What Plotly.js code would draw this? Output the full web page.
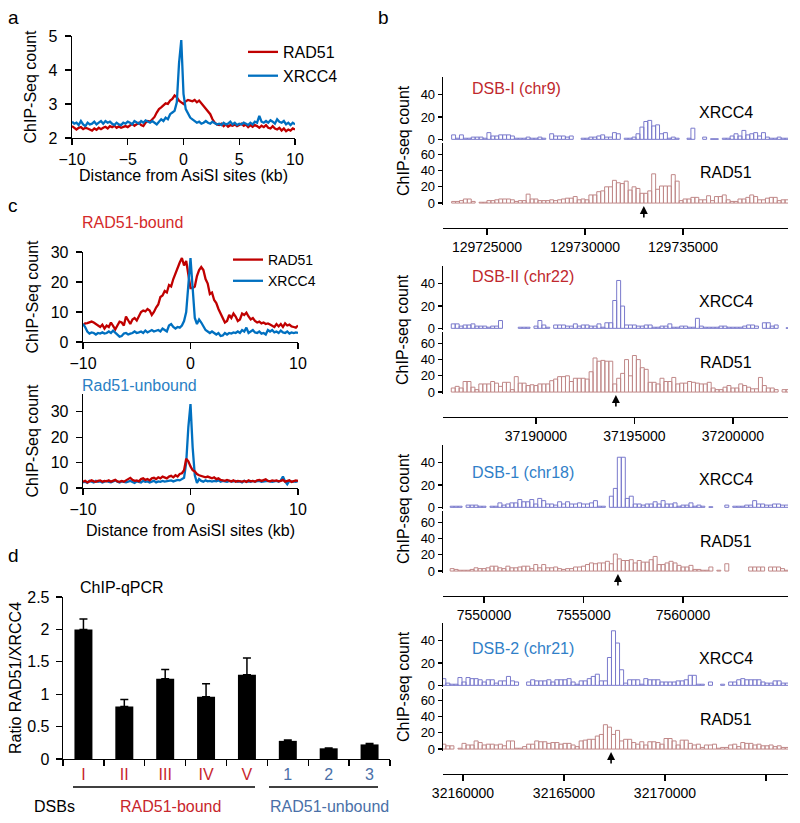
<!DOCTYPE html>
<html><head><meta charset="utf-8">
<script src="https://cdn.plot.ly/plotly-3.0.1.min.js"></script>
<style>html,body{margin:0;padding:0;background:#fff}#chart{width:800px;height:823px}</style>
</head><body><div id="chart"></div>
<script>
// ---------- DATA ----------
// Panel a: average profiles, x from -10 to 10 kb, step 0.2 kb
const profileStartKb = -10, profileStepKb = 0.2;
const aRad51 = [2.35,2.30,2.25,2.30,2.32,2.26,2.30,2.28,2.25,2.22,
2.28,2.24,2.30,2.26,2.30,2.33,2.28,2.35,2.32,2.36,
2.30,2.34,2.30,2.33,2.35,2.32,2.38,2.42,2.36,2.40,
2.45,2.38,2.35,2.45,2.50,2.48,2.55,2.62,2.75,2.85,
2.90,2.95,3.02,3.00,3.10,3.15,3.25,3.20,3.10,3.05,
3.00,3.08,3.12,3.10,3.08,3.12,3.05,3.10,3.02,2.95,
2.85,2.80,2.70,2.55,2.45,2.40,2.38,2.42,2.35,2.40,
2.33,2.38,2.36,2.40,2.35,2.38,2.42,2.36,2.40,2.32,
2.38,2.33,2.38,2.35,2.30,2.36,2.32,2.38,2.30,2.28,
2.35,2.28,2.25,2.30,2.22,2.28,2.20,2.25,2.22,2.28,
2.25];
const aXrcc4 = [2.48,2.42,2.45,2.38,2.50,2.40,2.35,2.45,2.40,2.42,
2.48,2.40,2.45,2.50,2.42,2.50,2.45,2.48,2.42,2.38,
2.45,2.40,2.38,2.45,2.42,2.48,2.45,2.40,2.50,2.45,
2.42,2.50,2.45,2.52,2.48,2.45,2.50,2.45,2.40,2.48,
2.55,2.50,2.60,2.55,2.70,2.75,2.80,3.05,4.20,4.88,
3.30,2.85,2.70,2.60,2.55,2.50,2.45,2.48,2.42,2.45,
2.50,2.45,2.42,2.48,2.45,2.40,2.42,2.38,2.45,2.40,
2.42,2.48,2.40,2.45,2.38,2.42,2.40,2.45,2.42,2.38,
2.45,2.40,2.48,2.45,2.65,2.48,2.45,2.50,2.45,2.52,
2.48,2.42,2.55,2.48,2.45,2.50,2.40,2.45,2.38,2.45,
2.40];
// Panel c: RAD51-bound
const cBoundRad51 = [5.5,6.2,6.3,6.5,6.8,6.5,6.0,5.5,5.0,5.8,
4.5,5.5,5.0,6.5,5.2,4.2,5.5,6.8,6.5,5.5,
8.5,7.0,6.0,7.5,8.0,7.2,8.8,10.0,10.5,10.2,
11.0,10.5,9.0,10.0,11.5,12.5,15.0,15.5,17.0,16.5,
19.0,18.5,21.0,23.0,25.0,26.5,28.0,25.5,27.0,22.0,
18.0,18.0,18.5,22.0,24.0,25.0,24.0,21.0,19.5,16.0,
16.5,14.0,13.0,11.0,9.5,7.5,6.5,7.0,9.0,8.0,
9.5,8.5,7.0,7.5,9.5,9.0,9.8,8.5,7.5,8.0,
7.0,6.5,6.8,6.2,6.5,6.0,6.2,5.8,5.5,5.0,
6.0,5.2,6.0,5.0,6.2,5.5,5.8,5.2,5.0,4.8,
5.5];
const cBoundXrcc4 = [6.0,5.0,3.5,2.8,3.2,3.0,2.5,3.0,2.8,3.2,
2.8,3.0,3.5,3.0,3.8,3.2,2.5,1.8,2.0,2.8,
3.0,2.5,2.8,3.0,3.5,3.0,3.2,3.5,3.0,3.8,
3.2,3.5,4.0,3.5,3.8,4.0,3.5,4.5,4.0,3.5,
5.5,6.0,5.0,4.5,5.0,4.8,5.5,7.0,10.0,20.0,
28.0,18.0,8.0,6.0,7.5,6.5,5.0,4.0,3.5,3.0,
3.5,3.0,2.5,3.0,2.0,2.2,3.0,2.5,3.0,2.8,
3.2,3.0,3.5,3.0,4.0,3.5,4.8,3.0,3.5,4.0,
3.2,3.0,3.5,2.8,3.0,2.5,4.0,3.5,4.0,3.2,
3.5,3.0,3.8,3.2,3.0,3.5,2.8,3.2,3.0,3.2,
3.0];
// Panel c: Rad51-unbound
const cUnboundRad51 = [2.5,2.8,2.2,2.5,3.0,2.6,2.4,2.8,3.0,2.5,
2.8,2.6,3.0,2.5,2.8,3.2,2.6,2.4,2.8,2.5,
3.0,3.5,4.0,3.2,2.8,3.0,2.6,3.5,3.8,3.2,
3.5,3.0,3.8,4.0,3.5,4.2,3.8,4.5,4.0,3.8,
4.5,4.8,4.2,5.0,4.5,5.5,5.8,7.0,11.5,10.5,
8.5,7.0,6.5,5.5,5.0,4.8,4.5,4.2,4.5,4.0,
3.8,4.2,3.5,3.8,3.2,3.0,2.8,3.2,3.0,2.6,
3.0,2.5,2.8,2.6,2.5,2.8,2.4,3.0,2.6,2.8,
2.5,3.0,3.2,2.8,3.0,3.4,2.8,2.6,3.0,2.8,
3.0,2.6,2.8,3.2,2.5,2.8,3.0,2.4,2.8,3.0,
2.8];
const cUnboundXrcc4 = [2.2,2.5,2.0,2.8,2.5,2.2,2.8,2.4,2.6,2.2,
2.5,2.8,2.4,2.2,2.6,3.0,2.5,2.2,2.6,2.4,
2.2,2.5,2.8,2.4,2.0,2.6,2.5,2.2,2.8,2.4,
2.6,2.2,2.5,2.8,2.2,2.6,2.4,2.8,2.5,2.6,
2.8,3.0,2.6,2.8,3.2,3.0,3.5,4.0,10.0,24.0,
33.0,16.0,5.0,2.0,3.5,2.8,2.5,3.0,2.6,2.8,
2.5,2.8,2.6,3.0,2.5,2.8,2.6,2.4,2.8,2.5,
2.6,2.8,2.4,2.6,2.2,2.8,2.5,2.6,2.4,2.8,
2.5,2.6,2.8,2.4,2.6,2.5,2.8,2.6,2.4,2.6,
2.8,2.5,3.0,4.5,2.6,1.5,2.8,2.5,2.6,2.4,
2.8];

// Panel d: ChIP-qPCR ratio
const dsbLabels = ['I','II','III','IV','V','1','2','3'];
const ratioValues = [2.00,0.81,1.24,0.96,1.30,0.28,0.165,0.225];
const ratioErrUp = [0.16,0.11,0.14,0.20,0.26,0.015,0.005,0.015];
const ratioErrDown = [0,0,0,0,0,0,0,0];
const dsbGroup = ['bound','bound','bound','bound','bound','unbound','unbound','unbound'];

// Panel b: genome tracks (200 bp bins)
const trackNames = ['DSB-I (chr9)','DSB-II (chr22)','DSB-1 (chr18)','DSB-2 (chr21)'];
const trackGroup = ['bound','bound','unbound','unbound'];
const binSizeBp = 200;
const binStarts = [129723200, 37185700, 7548300, 32158950];
const viewRanges = [[129722760,129740350],[37185280,37202800],[7547940,7565276],[32159010,32176088]];
const genomeTicks = [[129725000,129730000,129735000],[37190000,37195000,37200000],[7550000,7555000,7560000],[32160000,32165000,32170000,32175000]];
const genomeTickText = [['129725000','129730000','129735000'],['37190000','37195000','37200000'],['7550000','7555000','7560000'],['32160000','32165000','32170000','']];
const asisiSites = [129733000, 37194060, 7556730, 32167330];

const xrcc4_DSB_I = [4,1,4,1,1,2,2,2,1,6, 3,3,4,4,4,3,1,1,1,2, 1,1,2,1,null,5,3,3,3,2, 3,null,null,1,1,2,2,3,4,2, 2,6,5,null,1,1,2,5,11,16, 17,12,13,5,6,1,2,1,null,null, 1,10,null,null,2,null,0.5,0.5,null,1, 1,3,5,3,8,4,5,6,3,6, 2,1,1,2,1,1,3];
const rad51_DSB_I = [2,2,3,5,5,2,null,1,1,3, 3,4,5,5,5,4,2,3,3,11, 5,5,3,3,3,4,3,4,5,6, 6,8,4,5,4,10,10,14,15,20, 20,28,25,24,27,16,20,18,12,12, 15,36,17,21,21,21,35,27,3,5, 5,7,7,4,4,9,3,8,8,10, 4,2,2,5,5,7,10,8,4,4, 6,7,7,3,4,4,2];
const xrcc4_DSB_II = [4,4,2,3,3,4,2,2,2,1, 2,2,7,null,null,null,null,1,1,1, null,2,7,3,1,null,3,3,3,2, 2,4,2,3,3,2,2,4,1,5, 5,25,43,20,3,3,3,2,2,3, 3,1,1,2,2,4,1,1,2,2, 1,1,9,2,1,1,1,1,2,2, 1,1,1,1,2,3,3,2,null,5, 5,2,3,null,null,0.5,0.5];
const rad51_DSB_II = [5,7,5,13,13,6,3,10,10,10, 13,11,7,12,12,3,19,11,11,8, 9,8,10,10,10,14,16,19,19,20, 13,17,17,17,16,25,42,38,39,38, 38,10,17,23,40,20,45,40,30,28, 12,12,10,17,13,13,18,10,11,11, 13,12,11,10,10,12,5,3,3,6, 8,5,5,10,8,6,4,4,18,8, 5,5,3,null,3,3,4];
const xrcc4_DSB_1 = [1,1,1,null,2,2,2,1,1,null, 1,1,4,2,3,4,4,7,5,5, 7,3,8,6,3,3,2,5,3,5, 3,3,4,3,3,4,6,1,1,null, 10,17,45,45,8,10,3,3,2,3, 3,5,3,6,3,3,4,1,2,2, 4,1,2,1,null,0.5,null,null,null,2, null,1,1,1,2,2,6,3,3,2, 2,3,3,2,2,4,3];
const rad51_DSB_1 = [3,2,1,1,1,2,4,3,3,4, 6,6,4,3,6,4,4,5,6,6, 3,8,4,8,4,4,5,3,2,3, 3,5,5,6,8,10,9,10,10,12, 9,21,15,13,13,14,10,13,11,11, 14,18,8,8,10,12,10,7,5,5, 7,2,2,1,1,5,null,1,null,9, null,null,null,null,null,5,5,5,5,null, 5,5,5,3,1,1,0.5];
const xrcc4_DSB_2 = [6,2,1,1,7,3,7,6,6,5, 3,5,5,2,4,4,8,4,3,null, null,3,5,4,4,4,5,3,5,5, 5,6,3,1,4,4,6,8,10,4, 4,25,49,38,14,2,5,5,5,1, 6,5,5,5,3,3,3,3,4,4, 5,9,9,1,1,null,3,null,null,1, null,3,3,5,6,5,5,5,5,3, 2,2,4,4,2,2,5];
const rad51_DSB_2 = [6,4,4,null,1,7,5,5,10,8, 5,6,6,5,6,4,10,10,1,1, 3,6,6,10,9,9,7,8,8,6, 7,7,5,3,10,11,12,12,16,18, 30,27,18,23,10,12,12,8,6,9, 5,9,9,8,6,13,13,10,5,11, 11,7,5,6,2,5,5,6,1,2, 2,5,6,3,8,7,7,5,6,4, 4,5,3,4,2,2,5];
const xrcc4Tracks = [xrcc4_DSB_I, xrcc4_DSB_II, xrcc4_DSB_1, xrcc4_DSB_2];
const rad51Tracks = [rad51_DSB_I, rad51_DSB_II, rad51_DSB_1, rad51_DSB_2];

// ---------- STYLE / LAYOUT ----------
const W = 800, H = 823;
const px = v => v / W, py = v => 1 - v / H;
const RED = '#c00000', BLUE = '#0070c0';
const BOUND_RED = '#d42a2a', UNBOUND_BLUE = '#2a7fc4', D_RED = '#c8262c', D_BLUE = '#4a70a8';
const XR_BAR = '#7a7acc', RAD_BAR = '#c08888';
const FONT = 'Liberation Sans, Arial, Helvetica, sans-serif';

const axisBase = {showline:true, linecolor:'#000', linewidth:1.3, ticks:'outside', ticklen:6, tickwidth:1.3,
  tickcolor:'#000', showgrid:false, zeroline:false, tickfont:{size:16, color:'#000'}, fixedrange:true};
const ax = o => Object.assign({}, axisBase, o);

const traces = [];
// panel a
traces.push({type:'scatter', mode:'lines', x0:profileStartKb, dx:profileStepKb, y:aRad51, name:'RAD51',
  line:{color:RED, width:2.3}, xaxis:'x', yaxis:'y', legend:'legend'});
traces.push({type:'scatter', mode:'lines', x0:profileStartKb, dx:profileStepKb, y:aXrcc4, name:'XRCC4',
  line:{color:BLUE, width:2.3}, xaxis:'x', yaxis:'y', legend:'legend'});
// panel c top
traces.push({type:'scatter', mode:'lines', x0:profileStartKb, dx:profileStepKb, y:cBoundRad51, name:'RAD51',
  line:{color:RED, width:2.3}, xaxis:'x2', yaxis:'y2', legend:'legend2'});
traces.push({type:'scatter', mode:'lines', x0:profileStartKb, dx:profileStepKb, y:cBoundXrcc4, name:'XRCC4',
  line:{color:BLUE, width:2.3}, xaxis:'x2', yaxis:'y2', legend:'legend2'});
// panel c bottom
traces.push({type:'scatter', mode:'lines', x0:profileStartKb, dx:profileStepKb, y:cUnboundXrcc4, name:'XRCC4',
  line:{color:BLUE, width:2.3}, xaxis:'x3', yaxis:'y3', showlegend:false});
traces.push({type:'scatter', mode:'lines', x0:profileStartKb, dx:profileStepKb, y:cUnboundRad51, name:'RAD51',
  line:{color:RED, width:2.3}, xaxis:'x3', yaxis:'y3', showlegend:false});
// panel d
traces.push({type:'bar', x:dsbLabels, y:ratioValues, width:0.44, marker:{color:'#000'},
  error_y:{type:'data', symmetric:false, array:ratioErrUp, arrayminus:ratioErrDown, color:'#000', thickness:1.5, width:4},
  xaxis:'x4', yaxis:'y4', showlegend:false});
// panel b
for (let k = 0; k < 4; k++) {
  traces.push({type:'bar', x0:binStarts[k] + binSizeBp/2, dx:binSizeBp, width:binSizeBp, y:xrcc4Tracks[k], name:'XRCC4',
    marker:{color:'rgba(255,255,255,0)', line:{color:XR_BAR, width:1}}, xaxis:'x'+(5+k), yaxis:'y'+(5+2*k), showlegend:false});
  traces.push({type:'bar', x0:binStarts[k] + binSizeBp/2, dx:binSizeBp, width:binSizeBp, y:rad51Tracks[k], name:'RAD51',
    marker:{color:'rgba(255,255,255,0)', line:{color:RAD_BAR, width:1}}, xaxis:'x'+(5+k), yaxis:'y'+(6+2*k), showlegend:false});
}

const layout = {
  width:W, height:H, margin:{l:0,r:0,t:0,b:0}, paper_bgcolor:'#fff', plot_bgcolor:'rgba(0,0,0,0)',
  font:{family:FONT, size:16, color:'#000'}, showlegend:true, barmode:'overlay',
  legend:{x:px(243), y:py(35), xanchor:'left', yanchor:'top', bgcolor:'rgba(0,0,0,0)', font:{size:16}, itemwidth:30, tracegroupgap:0},
  legend2:{x:px(228), y:py(244), xanchor:'left', yanchor:'top', bgcolor:'rgba(0,0,0,0)', font:{size:14}, itemwidth:30, tracegroupgap:0},
  xaxis: ax({domain:[px(72),px(295)], range:[-10,10], tickvals:[-10,-5,0,5,10], anchor:'y',
    title:{text:'Distance from AsiSI sites (kb)', font:{size:16}, standoff:3}}),
  yaxis: ax({domain:[py(138),py(36)], range:[2,5], tickvals:[2,3,4,5], anchor:'x', ticklabelstandoff:4,
    title:{text:'ChIP-Seq count', font:{size:16}, standoff:8}}),
  xaxis2: ax({domain:[px(83),px(298)], range:[-10,10], tickvals:[-10,0,10], anchor:'y2'}),
  yaxis2: ax({domain:[py(342),py(252)], range:[0,30], tickvals:[0,10,20,30], anchor:'x2', ticklabelstandoff:4,
    title:{text:'ChIP-Seq count', font:{size:16}, standoff:8}}),
  xaxis3: ax({domain:[px(83),px(298)], range:[-10,10], tickvals:[-10,0,10], anchor:'y3',
    title:{text:'Distance from AsiSI sites (kb)', font:{size:16}, standoff:8}}),
  yaxis3: ax({domain:[py(488),py(394)], range:[0,37], tickvals:[0,10,20,30], anchor:'x3', ticklabelstandoff:4,
    title:{text:'ChIP-Seq count', font:{size:16}, standoff:8}}),
  xaxis4: ax({domain:[px(63),px(390)], type:'category', range:[-0.5,7.5], tickson:'boundaries', anchor:'y4',
    tickmode:'array', tickvals:dsbLabels,
    ticktext:dsbLabels.map((l,i)=>'<span style="color:'+(dsbGroup[i]==='bound'?D_RED:D_BLUE)+'">'+l+'</span>')}),
  yaxis4: ax({domain:[py(759),py(597)], range:[0,2.5], tickvals:[0,0.5,1,1.5,2,2.5], anchor:'x4', ticklabelstandoff:3,
    title:{text:'Ratio RAD51/XRCC4', font:{size:16}, standoff:1}}),
  annotations:[], shapes:[]
};

const blockOffsets = [0,189,368,546];
const nameY = [88,276,472,648];
for (let k = 0; k < 4; k++) {
  const o = blockOffsets[k];
  layout['xaxis'+(5+k)] = ax({domain:[px(443),px(788)], range:viewRanges[k], anchor:'free', position:py(228+o),
    tickmode:'array', tickvals:genomeTicks[k], ticktext:genomeTickText[k], tickfont:{size:14}, ticklen:6});
  layout['yaxis'+(5+2*k)] = ax({domain:[py(141+o),py(77+o)], range:[-1.5,56], tickvals:[0,20,40], anchor:'x'+(5+k),
    tickfont:{size:13}, ticklen:4});
  layout['yaxis'+(6+2*k)] = ax({domain:[py(205+o),py(143+o)], range:[-2.4,74], tickvals:[0,20,40,60], anchor:'x'+(5+k),
    tickfont:{size:13}, ticklen:4});
}

const A = layout.annotations;
function ann(text, x, y, extra) {
  A.push(Object.assign({text:text, x:px(x), y:py(y), xref:'paper', yref:'paper', showarrow:false,
    xanchor:'center', yanchor:'middle', font:{size:16, color:'#000'}}, extra || {}));
}
ann('a', 13, 17, {font:{size:19}});
ann('b', 383, 17, {font:{size:19}});
ann('c', 13, 205, {font:{size:19}});
ann('d', 13, 555, {font:{size:19}});
ann('RAD51-bound', 80, 223, {xanchor:'left', font:{size:16, color:BOUND_RED}});
ann('Rad51-unbound', 80, 385, {xanchor:'left', font:{size:16, color:UNBOUND_BLUE}});
ann('ChIP-qPCR', 78, 587, {xanchor:'left'});
ann('DSBs', 54, 806);
ann('RAD51-bound', 170, 806, {font:{size:16, color:D_RED}});
ann('RAD51-unbound', 329, 806, {font:{size:16, color:D_BLUE}});
layout.shapes.push({type:'line', xref:'paper', yref:'paper', x0:px(73), x1:px(255), y0:py(787), y1:py(787), line:{color:'#000', width:1.3}});
layout.shapes.push({type:'line', xref:'paper', yref:'paper', x0:px(269), x1:px(378), y0:py(787), y1:py(787), line:{color:'#000', width:1.3}});

for (let k = 0; k < 4; k++) {
  const o = blockOffsets[k];
  ann('ChIP-seq count', 403, 141+o, {textangle:-90});
  ann(trackNames[k], 470, nameY[k], {xanchor:'left', font:{size:16, color: trackGroup[k]==='bound' ? '#c0282d' : '#3080c8'}});
  ann('XRCC4', 726, 112+o);
  ann('RAD51', 726, 173+o);
  A.push({text:'', x:asisiSites[k], xref:'x'+(5+k), y:py(206+o), yref:'paper', showarrow:true,
    ax:0, ay:13, arrowhead:2, arrowsize:1, arrowwidth:1.6, arrowcolor:'#000'});
}

Plotly.newPlot('chart', traces, layout, {staticPlot:true, displayModeBar:false});
</script></body></html>
